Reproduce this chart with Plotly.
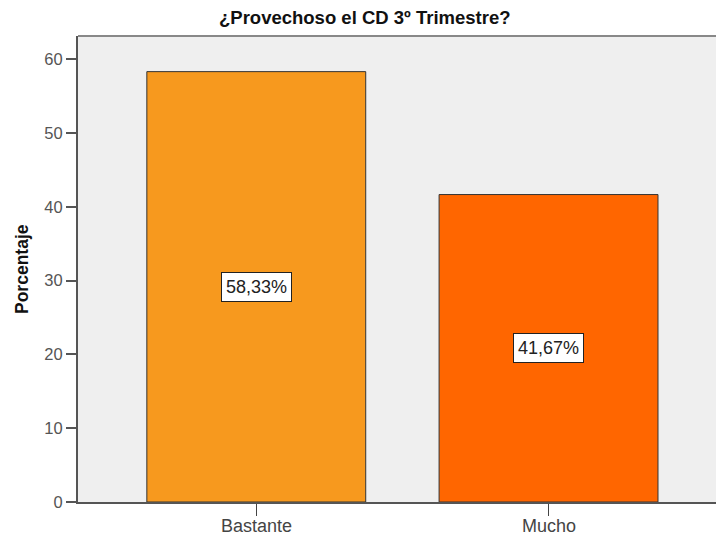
import plotly.graph_objects as go

# Survey answers and their percentages
categories = ["Bastante", "Mucho"]
percentages = [58.33, 41.67]
bar_colors = ["#F7991E", "#FF6600"]
y_ticks = [0, 10, 20, 30, 40, 50, 60]

W, H = 716, 535
L, R, T, B = 78, 0, 36, 33
FONT = "Liberation Sans, Arial, sans-serif"

fig = go.Figure()
fig.add_trace(go.Bar(
    x=categories,
    y=percentages,
    width=0.749,
    marker=dict(color=bar_colors, line=dict(color="#333333", width=1)),
    hoverinfo="skip",
))

plot_w = W - L - R
plot_h = H - T - B

# Boxed value labels at mid-height of each bar, category names under the axis
for cat, val in zip(categories, percentages):
    fig.add_annotation(
        x=cat, y=val / 2, xref="x", yref="y",
        text=f"{val:.2f}".replace(".", ",") + "%",
        showarrow=False,
        font=dict(family=FONT, size=18, color="#222222"),
        bgcolor="white", bordercolor="#222222", borderwidth=1, borderpad=4,
    )
    fig.add_annotation(
        x=cat, y=-24 / plot_h, xref="x", yref="paper",
        text=cat, showarrow=False,
        font=dict(family=FONT, size=18, color="#444444"),
        xanchor="center", yanchor="middle",
    )

# Chart title
fig.add_annotation(
    x=(365 - L) / plot_w, y=1 + 18 / plot_h, xref="paper", yref="paper",
    text="<b>¿Provechoso el CD 3º Trimestre?</b>", showarrow=False,
    font=dict(family=FONT, size=18.5, color="#111111"),
    xanchor="center", yanchor="middle",
)
# Y-axis title
fig.add_annotation(
    x=(22 - L) / plot_w, y=0.5, xref="paper", yref="paper",
    text="<b>Porcentaje</b>", showarrow=False, textangle=-90,
    font=dict(family=FONT, size=17.5, color="#111111"),
    xanchor="center", yanchor="middle",
)
# Top border of the plotting area
fig.add_shape(type="line", xref="paper", yref="paper", x0=0, x1=1, y0=1, y1=1,
              line=dict(color="#888888", width=2))

fig.update_layout(
    width=W, height=H,
    margin=dict(l=L, r=R, t=T, b=B, pad=0, autoexpand=False),
    paper_bgcolor="white",
    plot_bgcolor="#EFEFEF",
    showlegend=False,
    font=dict(family=FONT),
    xaxis=dict(
        range=[-0.61, 1.573],
        automargin=False,
        showticklabels=False,
        showgrid=False, zeroline=False,
        showline=True, linecolor="#555555", linewidth=2,
        ticks="outside", ticklen=12, tickwidth=1, tickcolor="#444444",
        fixedrange=True,
    ),
    yaxis=dict(
        range=[0, 63.16],
        automargin=False,
        tickvals=y_ticks,
        showgrid=False, zeroline=False,
        showline=True, linecolor="#555555", linewidth=2,
        ticks="outside", ticklen=10, tickwidth=2, tickcolor="#555555",
        tickfont=dict(family=FONT, size=16.5, color="#555555"),
        fixedrange=True,
    ),
)

fig.write_html("out.html")
